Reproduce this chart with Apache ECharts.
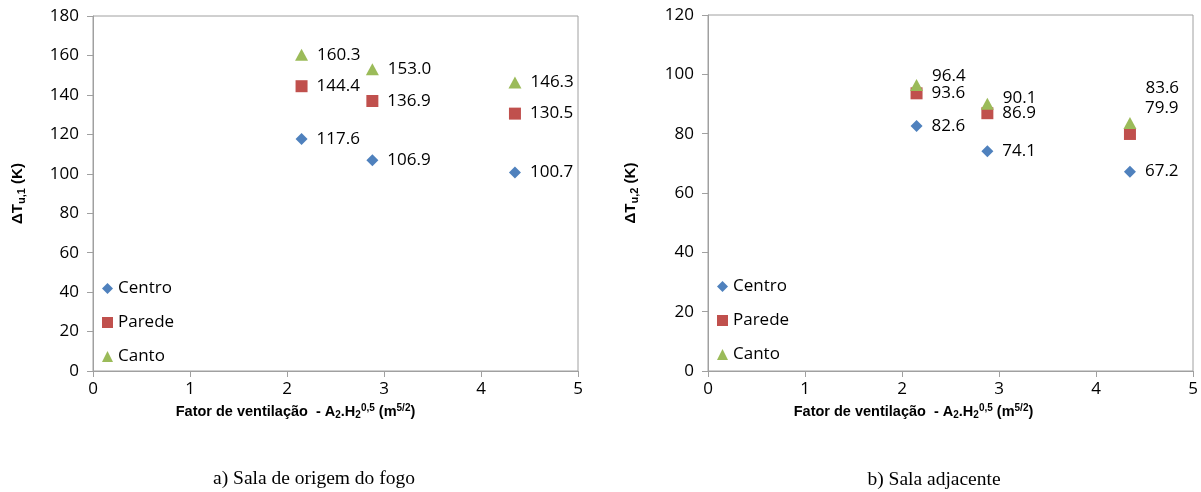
<!DOCTYPE html>
<html>
<head>
<meta charset="utf-8">
<script src="https://cdn.jsdelivr.net/npm/echarts@6/dist/echarts.min.js"></script>
<style>
  html, body { margin: 0; padding: 0; background: #fff; }
  #chart { width: 1201px; height: 492px; }
</style>
</head>
<body>
<div id="chart"></div>
<script>
// Ventilation factor (m^5/2) for the three openings
const ventFactor = [2.15, 2.88, 4.35];

// Temperature rise ΔT (K) — room of fire origin
const room1Centro = [117.6, 106.9, 100.7];
const room1Parede = [144.4, 136.9, 130.5];
const room1Canto  = [160.3, 153.0, 146.3];

// Temperature rise ΔT (K) — adjacent room
const room2Centro = [82.6, 74.1, 67.2];
const room2Parede = [93.6, 86.9, 79.9];
const room2Canto  = [96.4, 90.1, 83.6];

const seriesNames = ['Centro', 'Parede', 'Canto'];
const captions = ['a) Sala de origem do fogo', 'b) Sala adjacente'];

const FONT = '"Open Sans", "Noto Sans", sans-serif';
const TITLE_FONT = '"Liberation Sans", Arial, sans-serif';
const SERIF = '"Liberation Serif", "DejaVu Serif", serif';
const colors = { Centro: '#4F81BD', Parede: '#C0504D', Canto: '#9BBB59' };
const symbols = { Centro: 'diamond', Parede: 'rect', Canto: 'triangle' };
const symbolSizes = { Centro: [12, 12], Parede: [12, 12], Canto: [13, 12] };

// label nudges (px) so the crowded labels of the adjacent room don't collide
const labelNudge = {
  '1-Canto': [[0, -9], [0, -6], [0, -35]],
  '1-Parede': [[0, 0], [0, 0], [0, -26]]
};

function makeSeries(gridIdx, name, values) {
  const nudge = labelNudge[gridIdx + '-' + name];
  return {
    type: 'scatter',
    name: name,
    xAxisIndex: gridIdx,
    yAxisIndex: gridIdx,
    symbol: symbols[name],
    symbolSize: symbolSizes[name],
    itemStyle: { color: colors[name], opacity: 1 },
    label: {
      show: true,
      position: 'right',
      distance: 9,
      color: '#000',
      fontFamily: FONT,
      fontSize: 17,
      formatter: p => p.value[1].toFixed(1)
    },
    data: values.map((v, i) => {
      const item = { value: [ventFactor[i], v] };
      if (nudge) item.label = { offset: nudge[i] };
      return item;
    }),
    z: name === 'Canto' ? 3 : 2
  };
}

const axisGray = '#A0A0A0';
function richName(size) {
  const small = Math.round(size * 0.7);
  return {
    b: { fontFamily: TITLE_FONT, fontWeight: 'bold', fontSize: size, color: '#000' },
    s: { fontFamily: TITLE_FONT, fontWeight: 'bold', fontSize: small, color: '#000', verticalAlign: 'bottom', padding: [7, 0, 0, 0] },
    p: { fontFamily: TITLE_FONT, fontWeight: 'bold', fontSize: small, color: '#000', verticalAlign: 'top', padding: [0, 0, 7, 0] }
  };
}

function xAxis(gridIdx, shiftLeft) {
  return {
    gridIndex: gridIdx,
    type: 'value',
    min: 0, max: 5, interval: 1,
    name: '{b|Fator de ventilação  - A}{s|2}{b|.H}{s|2}{p|0,5}{b| (m}{p|5/2}{b|)}',
    nameLocation: 'middle',
    nameGap: 32,
    nameTextStyle: { rich: richName(14.5), padding: [0, shiftLeft * 2, 0, 0] },
    axisLine: { show: true, lineStyle: { color: axisGray, width: 1 } },
    axisTick: { show: true, length: 6, lineStyle: { color: axisGray } },
    axisLabel: { color: '#000', fontFamily: FONT, fontSize: 17, margin: 10 },
    splitLine: { show: false }
  };
}

function yAxis(gridIdx, max, sub, gap) {
  return {
    gridIndex: gridIdx,
    type: 'value',
    min: 0, max: max, interval: 20,
    name: '{b|ΔT}{s|u,' + sub + '}{b| (K)}',
    nameLocation: 'middle',
    nameRotate: 90,
    nameGap: gap,
    nameTextStyle: { rich: richName(15) },
    axisLine: { show: true, lineStyle: { color: axisGray, width: 1 } },
    axisTick: { show: true, length: 6, lineStyle: { color: axisGray } },
    axisLabel: { color: '#000', fontFamily: FONT, fontSize: 17, margin: 14 },
    splitLine: { show: false }
  };
}

function legend(left, top) {
  return {
    orient: 'vertical',
    left: left, top: top,
    itemWidth: 11, itemHeight: 11,
    itemGap: 15,
    textStyle: { color: '#000', fontFamily: FONT, fontSize: 17, lineHeight: 19 },
    data: seriesNames.map(n => ({ name: n, icon: symbols[n] })),
    selectedMode: false
  };
}

const chart = echarts.init(document.getElementById('chart'), null, { renderer: 'canvas' });
chart.setOption({
  backgroundColor: '#fff',
  animation: false,
  grid: [
    { left: 93, right: 623, top: 16, bottom: 121, show: true, borderColor: axisGray, borderWidth: 1 },
    { left: 708, right: 8, top: 15, bottom: 121, show: true, borderColor: axisGray, borderWidth: 1 }
  ],
  xAxis: [xAxis(0, 40), xAxis(1, 37)],
  yAxis: [yAxis(0, 180, '1', 66), yAxis(1, 120, '2', 68)],
  legend: [legend(97, 274), legend(712, 272)],
  title: [
    { text: captions[0], left: 309, top: 464, textAlign: 'center',
      textStyle: { fontFamily: SERIF, fontWeight: 'normal', fontSize: 19.5, color: '#000' } },
    { text: captions[1], left: 929, top: 465, textAlign: 'center',
      textStyle: { fontFamily: SERIF, fontWeight: 'normal', fontSize: 19.5, color: '#000' } }
  ],
  series: [
    makeSeries(0, 'Centro', room1Centro),
    makeSeries(0, 'Parede', room1Parede),
    makeSeries(0, 'Canto', room1Canto),
    makeSeries(1, 'Centro', room2Centro),
    makeSeries(1, 'Parede', room2Parede),
    makeSeries(1, 'Canto', room2Canto)
  ]
});
</script>
</body>
</html>
